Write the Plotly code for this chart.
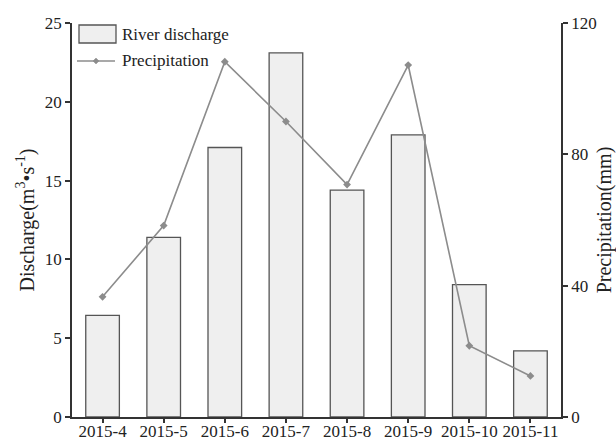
import plotly.graph_objects as go

months = ["2015-4", "2015-5", "2015-6", "2015-7", "2015-8", "2015-9", "2015-10", "2015-11"]
discharge = [6.45, 11.4, 17.1, 23.1, 14.4, 17.9, 8.4, 4.2]
precipitation = [36.6, 58.3, 108.2, 90.0, 70.8, 107.2, 21.7, 12.5]

FONT = "Liberation Serif, Times New Roman, serif"
AXIS = "#333333"
TEXT = "#222222"

fig = go.Figure()
fig.add_trace(go.Bar(
    x=months, y=discharge, name="River discharge", width=0.55,
    marker=dict(color="#efefef", line=dict(color="#555555", width=1.3)),
    yaxis="y",
))
fig.add_trace(go.Scatter(
    x=months, y=precipitation, name="Precipitation", mode="lines+markers",
    line=dict(color="#8c8c8c", width=1.6),
    marker=dict(color="#8c8c8c", size=6, symbol="diamond"),
    yaxis="y2",
))

# legend drawn in paper coordinates (plot area spans 72..561 x 23..417 px)
def px(x):
    return (x - 72) / 489

def py(y):
    return (417 - y) / 394

shapes = [
    dict(type="rect", xref="paper", yref="paper",
         x0=px(79), x1=px(116), y0=py(43), y1=py(25),
         fillcolor="#efefef", line=dict(color="#555555", width=1.3)),
    dict(type="line", xref="paper", yref="paper",
         x0=px(77), x1=px(115), y0=py(61), y1=py(61),
         line=dict(color="#8c8c8c", width=1.6)),
    dict(type="path", xref="paper", yref="paper",
         path=f"M {px(96)} {py(58)} L {px(99)} {py(61)} L {px(96)} {py(64)} L {px(93)} {py(61)} Z",
         fillcolor="#8c8c8c", line=dict(color="#8c8c8c", width=0.5)),
]
annotations = [
    dict(xref="paper", yref="paper", x=px(120), y=py(34), text="River discharge",
         showarrow=False, xanchor="left", yanchor="middle",
         font=dict(family=FONT, size=17, color=TEXT)),
    dict(xref="paper", yref="paper", x=px(120), y=py(61), text="Precipitation",
         showarrow=False, xanchor="left", yanchor="middle",
         font=dict(family=FONT, size=17, color=TEXT)),
]

fig.update_layout(
    width=616, height=439,
    margin=dict(l=72, r=55, t=23, b=22),
    paper_bgcolor="white", plot_bgcolor="white",
    showlegend=False,
    font=dict(family=FONT, size=16, color=TEXT),
    shapes=shapes, annotations=annotations,
    xaxis=dict(
        type="category", range=[-0.5, 7.5],
        showline=True, linecolor=AXIS, linewidth=1.5,
        ticks="outside", ticklen=4, tickwidth=1.5, tickcolor=AXIS,
        ticklabelstandoff=-6,
        showgrid=False, zeroline=False,
        tickfont=dict(family=FONT, size=17, color=TEXT),
        automargin=False,
    ),
    yaxis=dict(
        range=[0, 25], dtick=5,
        showline=True, linecolor=AXIS, linewidth=1.5,
        ticks="outside", ticklen=5, tickwidth=1.5, tickcolor=AXIS,
        showgrid=False, zeroline=False,
        tickfont=dict(family=FONT, size=17, color=TEXT),
        title=dict(text="Discharge(m<sup>3</sup>•s<sup>-1</sup>)",
                   font=dict(family=FONT, size=20, color=TEXT), standoff=5),
        automargin=False,
    ),
    yaxis2=dict(
        range=[0, 120], dtick=40, overlaying="y", side="right",
        showline=True, linecolor=AXIS, linewidth=1.5,
        ticks="outside", ticklen=5, tickwidth=1.5, tickcolor=AXIS,
        showgrid=False, zeroline=False,
        tickfont=dict(family=FONT, size=17, color=TEXT),
        title=dict(text="Precipitation(mm)",
                   font=dict(family=FONT, size=20, color=TEXT), standoff=10),
        automargin=False,
    ),
)

fig.write_html("out.html")
